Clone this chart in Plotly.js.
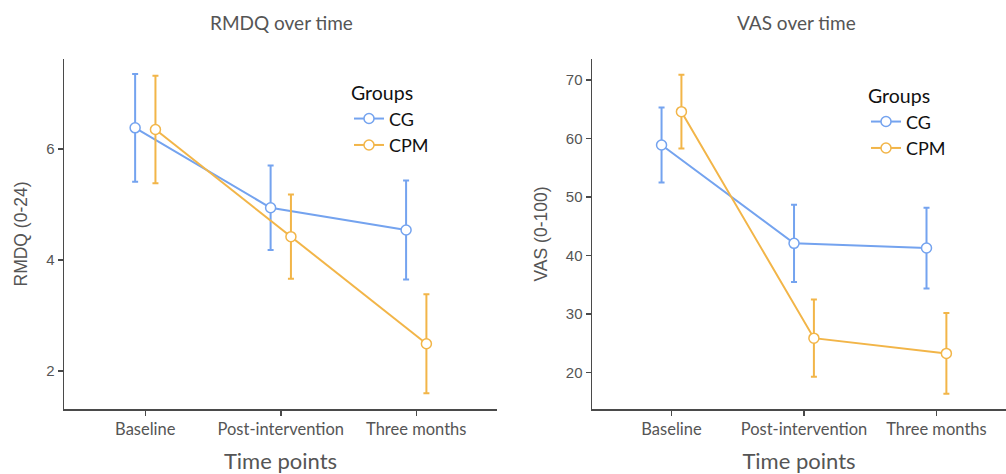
<!DOCTYPE html>
<html>
<head>
<meta charset="utf-8">
<script src="https://cdn.plot.ly/plotly-3.0.1.min.js"></script>
<style>html,body{margin:0;padding:0;background:#fff;}#chart{width:1006px;height:474px;}</style>
</head>
<body>
<div id="chart"></div>
<script>
// ---- data ----
const timePoints = ["Baseline", "Post-intervention", "Three months"];
const groups = ["CG", "CPM"];
const rmdqCG = [6.38, 4.94, 4.54];
const rmdqCGErr = [0.97, 0.76, 0.89];
const rmdqCPM = [6.35, 4.42, 2.49];
const rmdqCPMErr = [0.97, 0.76, 0.89];
const vasCG = [58.9, 42.1, 41.3];
const vasCGErr = [6.4, 6.6, 6.9];
const vasCPM = [64.6, 25.9, 23.3];
const vasCPMErr = [6.3, 6.6, 6.9];

// ---- styling ----
const blue = "#74a3ef", orange = "#f2b548";
const dodge = 0.075;
const idx = timePoints.map((_, i) => i);

function trace(name, vals, errs, color, xa, ya, legend, shift) {
  return {
    type: "scatter", mode: "lines+markers", name: name,
    x: idx.map(i => i + shift), y: vals,
    xaxis: xa, yaxis: ya, legend: legend,
    line: {color: color, width: 2},
    marker: {size: 10, color: "#ffffff", line: {color: color, width: 1.5}},
    error_y: {type: "data", array: errs, visible: true, color: color, thickness: 2, width: 3},
    hoverinfo: "skip"
  };
}

const data = [
  trace(groups[0], rmdqCG, rmdqCGErr, blue, "x", "y", "legend", -dodge),
  trace(groups[1], rmdqCPM, rmdqCPMErr, orange, "x", "y", "legend", dodge),
  trace(groups[0], vasCG, vasCGErr, blue, "x2", "y2", "legend2", -dodge),
  trace(groups[1], vasCPM, vasCPMErr, orange, "x2", "y2", "legend2", dodge)
];

const W = 1006, H = 474;
const axisCommon = {
  showgrid: false, zeroline: false, showline: true, linecolor: "#4a4a4a", linewidth: 1.5,
  ticks: "outside", ticklen: 5, tickwidth: 1.5, tickcolor: "#4a4a4a"
};
const xCommon = Object.assign({}, axisCommon, {
  tickmode: "array", tickvals: idx, ticktext: timePoints,
  tickfont: {family: "Lato, sans-serif", size: 16.5, color: "#555"}
});
const xTitleFont = {family: "Lato, sans-serif", size: 22, color: "#555"};
const yCommon = Object.assign({}, axisCommon, {
  tickfont: {family: "Liberation Sans, Arial, sans-serif", size: 15, color: "#555"}
});
const yTitleFont = {family: "Liberation Sans, Arial, sans-serif", size: 17.5, color: "#555"};
const legendCommon = {
  bgcolor: "rgba(0,0,0,0)", xanchor: "left", yanchor: "top",
  font: {family: "Lato, sans-serif", size: 18, color: "#111"},
  title: {text: "Groups", font: {family: "Lato, sans-serif", size: 19.5, color: "#111"}},
  tracegroupgap: 0, itemwidth: 30
};

const layout = {
  width: W, height: H,
  margin: {l: 0, r: 0, t: 0, b: 0},
  paper_bgcolor: "#fff", plot_bgcolor: "#fff",
  showlegend: true,
  xaxis: Object.assign({}, xCommon, {domain: [64 / W, 497 / W], range: [-0.6, 2.596], anchor: "y",
    title: {text: "Time points", font: xTitleFont, standoff: 18}}),
  yaxis: Object.assign({}, yCommon, {domain: [1 - 409 / H, 1 - 59 / H], range: [1.315, 7.62], tickvals: [2, 4, 6], anchor: "x",
    title: {text: "RMDQ (0-24)", font: yTitleFont, standoff: 14}}),
  xaxis2: Object.assign({}, xCommon, {domain: [592 / W, 1], range: [-0.6, 2.525], anchor: "y2",
    title: {text: "Time points", font: xTitleFont, standoff: 22}}),
  yaxis2: Object.assign({}, yCommon, {domain: [1 - 409 / H, 1 - 59 / H], range: [13.8, 73.6], tickvals: [20, 30, 40, 50, 60, 70], anchor: "x2",
    title: {text: "VAS (0-100)", font: yTitleFont, standoff: 13}}),
  legend: Object.assign({}, legendCommon, {x: 349 / W, y: 1 - 75 / H}),
  legend2: Object.assign({}, legendCommon, {x: 866 / W, y: 1 - 78 / H}),
  annotations: [
    {text: "RMDQ over time", xref: "paper", yref: "paper", x: 281 / W, y: 1 - 23 / H, showarrow: false,
      xanchor: "center", yanchor: "middle", font: {family: "Lato, sans-serif", size: 19, color: "#555"}},
    {text: "VAS over time", xref: "paper", yref: "paper", x: 796 / W, y: 1 - 23 / H, showarrow: false,
      xanchor: "center", yanchor: "middle", font: {family: "Lato, sans-serif", size: 19, color: "#555"}}
  ]
};

Plotly.newPlot("chart", data, layout, {displayModeBar: false, staticPlot: true});
</script>
</body>
</html>
